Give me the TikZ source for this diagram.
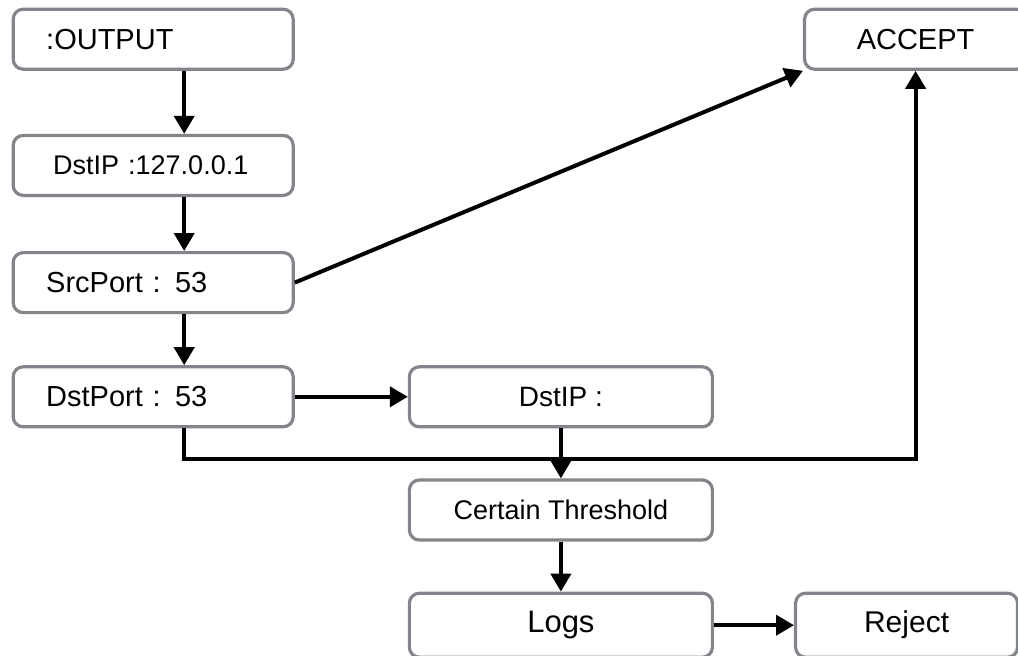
\documentclass[tikz,border=0pt]{standalone}
\usepackage{fontspec}
\setmainfont{Liberation Sans}
\usetikzlibrary{arrows.meta}
\definecolor{boxgray}{RGB}{130,133,137}

\begin{document}
\begin{tikzpicture}[
		box/.style={draw=boxgray, line width=1.6pt, rounded corners=5pt, minimum height=30pt, inner ysep=0pt, anchor=center},
		leftbox/.style={box, text width=107pt, inner xsep=16.5pt, align=left, font=\fontsize{14.5}{17}\selectfont},
		midbox/.style={box, minimum width=151.5pt, align=center, font=\fontsize{14}{17}\selectfont},
		endbox/.style={box, minimum width=111pt, align=center, font=\fontsize{14.5}{17}\selectfont},
		arr/.style={-{Triangle[length=9pt, width=10pt]}, line width=2pt}
	]
			\matrix [row sep = 25pt, column sep = 40pt] {
			 \node[leftbox] (P1) {:OUTPUT}; &[16.5pt] & \node[endbox, xshift=4.5pt] (P8) {ACCEPT}; \\[6.5pt]
			 \node[leftbox, text width=100pt, inner xsep=20pt, font=\fontsize{13.5}{16}\selectfont] (P2) {DstIP :127.0.0.1}; &[16.5pt] & \\[2pt]
			 \node[leftbox] (P3) {SrcPort : 53}; &[16.5pt] & \\[0.5pt]
			 \node[leftbox] (P4) {DstPort : 53}; &[16.5pt] \node[midbox] (P5) {DstIP :}; & \\
			 &[16.5pt] \node[midbox, font=\fontsize{13.5}{16}\selectfont] (P6) {Certain Threshold}; & \\
			 &[16.5pt] \node[midbox, minimum height=32pt, font=\fontsize{15.5}{18}\selectfont] (P7) {Logs}; & \node[endbox, minimum height=32pt, font=\fontsize{15}{18}\selectfont] (P9) {Reject}; \\
			};
			\draw[arr] ([xshift=15.5pt]P1.south) to ([xshift=15.5pt]P2.north);
			\draw[arr] ([xshift=15.5pt]P2.south) to ([xshift=15.5pt]P3.north);
			\draw[arr] ([xshift=15.5pt]P3.south) to ([xshift=15.5pt]P4.north);
			\draw[arr] (P3.east) to (P8.south west);
			\draw[arr] (P4) to (P5);
			\coordinate (J) at ([yshift=-15.5pt]P5.south);
			\draw[arr] ([xshift=15.5pt]P4.south) |- (J) -| (P8.south);
			\draw[arr] (P5) to (P6);
			\draw[arr] (P6) to (P7);
			\draw[arr] (P7) to (P9);
			\pgfresetboundingbox
			\useasboundingbox ([shift={(-5.8pt,3.8pt)}]P1.north west) rectangle ++(509pt,-327.5pt);
		\end{tikzpicture}
\end{document}
